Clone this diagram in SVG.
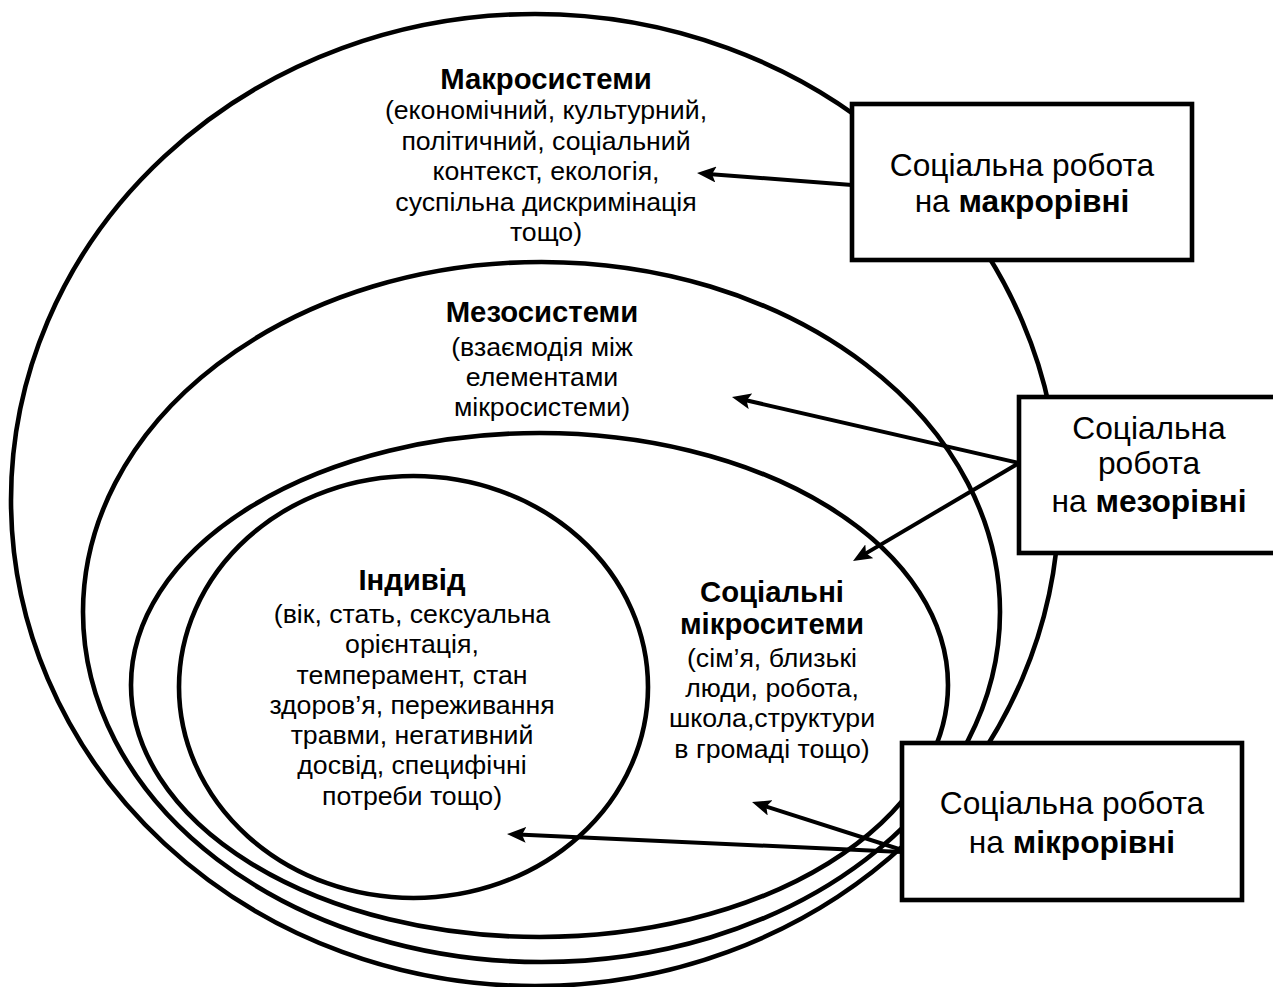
<svg xmlns="http://www.w3.org/2000/svg" width="1273" height="987" viewBox="0 0 1273 987">
  <style>
    .ring { fill: none; stroke: #000; stroke-width: 4.6; }
    .box { fill: #fff; stroke: #000; stroke-width: 4.6; stroke-linejoin: miter; }
    .conn { fill: none; stroke: #000; stroke-width: 4; marker-end: url(#arrow); }
    text { font-family: "Liberation Sans", Arial, sans-serif; fill: #000; text-anchor: middle; }
    .t { font-size: 26.7px; }
    .h { font-size: 29.3px; font-weight: bold; }
    .b { font-size: 31.7px; }
    .bb { font-weight: bold; }
  </style>
  <defs>
    <marker id="arrow" markerUnits="userSpaceOnUse" markerWidth="19" markerHeight="16" viewBox="0 0 19 16" refX="8" refY="8" orient="auto">
      <path d="M0,0 L19,8 L0,16 L4,8 z" fill="#000"/>
    </marker>
  </defs>
  <rect x="0" y="0" width="1273" height="987" fill="#fff"/>

  <g id="macrosystem">
    <ellipse class="ring" cx="535" cy="500" rx="524" ry="486"/>
    <text class="h" x="546" y="89">Макросистеми</text>
    <text class="t" x="546" y="119">(економічний, культурний,</text>
    <text class="t" x="546" y="149.5">політичний, соціальний</text>
    <text class="t" x="546" y="180">контекст, екологія,</text>
    <text class="t" x="546" y="210.5">суспільна дискримінація</text>
    <text class="t" x="546" y="241">тощо)</text>
  </g>

  <g id="mesosystem">
    <ellipse class="ring" cx="541.5" cy="612" rx="458.5" ry="350"/>
    <text class="h" x="542" y="322">Мезосистеми</text>
    <text class="t" x="542" y="356">(взаємодія між</text>
    <text class="t" x="542" y="386">елементами</text>
    <text class="t" x="542" y="416">мікросистеми)</text>
  </g>

  <g id="microsystem">
    <ellipse class="ring" cx="539.5" cy="685" rx="408.5" ry="252"/>
    <text class="h" x="772" y="602">Соціальні</text>
    <text class="h" x="772" y="633.5">мікроситеми</text>
    <text class="t" x="772" y="667">(сім’я, близькі</text>
    <text class="t" x="772" y="697">люди, робота,</text>
    <text class="t" x="772" y="727">школа,структури</text>
    <text class="t" x="772" y="758">в громаді тощо)</text>
  </g>

  <g id="individual">
    <ellipse class="ring" cx="413.5" cy="687" rx="234.5" ry="211"/>
    <text class="h" x="412" y="590">Індивід</text>
    <text class="t" x="412" y="622.5">(вік, стать, сексуальна</text>
    <text class="t" x="412" y="653">орієнтація,</text>
    <text class="t" x="412" y="683.5">темперамент, стан</text>
    <text class="t" x="412" y="713.5">здоров’я, переживання</text>
    <text class="t" x="412" y="743.5">травми, негативний</text>
    <text class="t" x="412" y="774">досвід, специфічні</text>
    <text class="t" x="412" y="804.5">потреби тощо)</text>
  </g>

  <g id="connectors">
    <path class="conn" d="M852,185 L708,173.9"/>
    <path class="conn" d="M1019,463 L742.7,399.5"/>
    <path class="conn" d="M1019,463 L862.5,555.4"/>
    <path class="conn" d="M902,850 L762.5,805.4"/>
    <path class="conn" d="M902,852 L518,834.5"/>
  </g>

  <g id="macro-level">
    <rect class="box" x="852" y="104" width="340" height="156"/>
    <text class="b" x="1022" y="175.5">Соціальна робота</text>
    <text class="b" x="1022" y="212">на <tspan class="bb">макрорівні</tspan></text>
  </g>

  <g id="meso-level">
    <rect class="box" x="1019" y="397" width="262" height="156"/>
    <text class="b" x="1149" y="438.5">Соціальна</text>
    <text class="b" x="1149" y="473.5">робота</text>
    <text class="b" x="1149" y="511.5">на <tspan class="bb">мезорівні</tspan></text>
  </g>

  <g id="micro-level">
    <rect class="box" x="902" y="743" width="340" height="157"/>
    <text class="b" x="1072" y="814">Соціальна робота</text>
    <text class="b" x="1072" y="853">на <tspan class="bb">мікрорівні</tspan></text>
  </g>
</svg>
